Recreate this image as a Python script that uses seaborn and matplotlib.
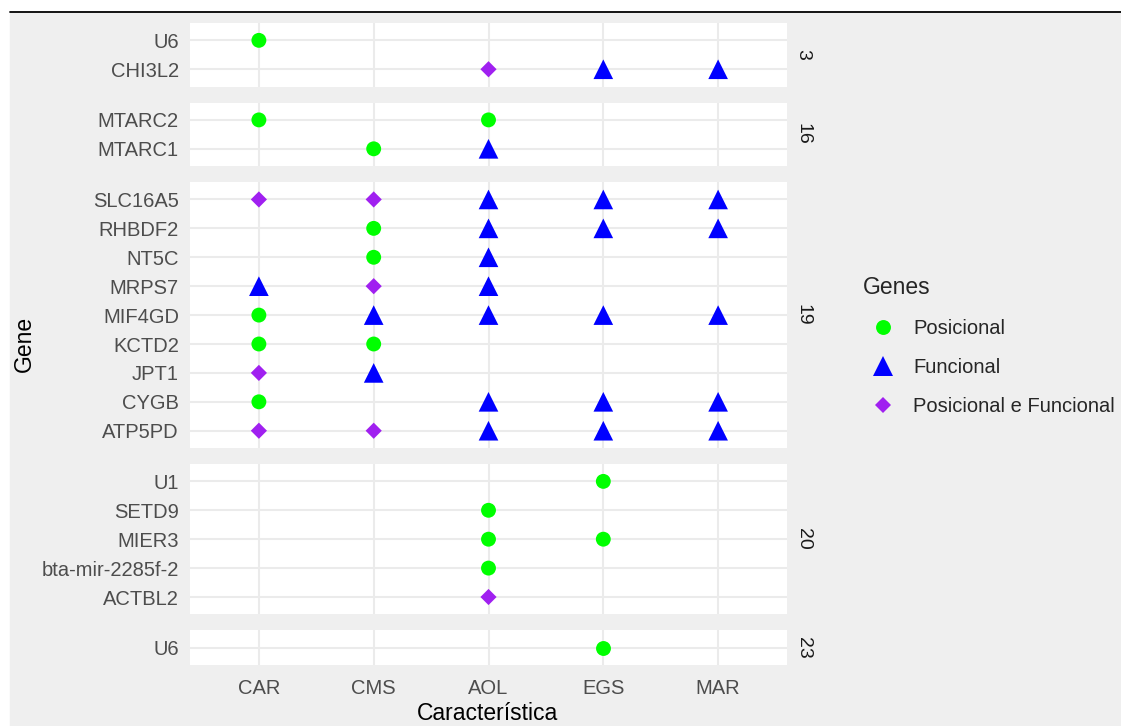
import numpy as np
import pandas as pd
import matplotlib.pyplot as plt
import seaborn as sns
from matplotlib.lines import Line2D

# Data: gene x trait hits, faceted by chromosome
chromosomes = [3, 16, 19, 20, 23]
traits = ["CAR", "CMS", "AOL", "EGS", "MAR"]
gene_types = ["Posicional", "Funcional", "Posicional e Funcional"]

P, F, PF = gene_types

chrom = [3, 3, 3, 3,
         16, 16, 16, 16,
         19, 19, 19, 19, 19, 19, 19, 19, 19, 19, 19, 19, 19, 19,
         19, 19, 19, 19, 19, 19, 19, 19, 19, 19, 19, 19, 19, 19,
         19, 19, 19, 19,
         20, 20, 20, 20, 20, 20,
         23]
gene = ["U6", "CHI3L2", "CHI3L2", "CHI3L2",
        "MTARC2", "MTARC2", "MTARC1", "MTARC1",
        "SLC16A5", "SLC16A5", "SLC16A5", "SLC16A5", "SLC16A5",
        "RHBDF2", "RHBDF2", "RHBDF2", "RHBDF2",
        "NT5C", "NT5C",
        "MRPS7", "MRPS7", "MRPS7",
        "MIF4GD", "MIF4GD", "MIF4GD", "MIF4GD", "MIF4GD",
        "KCTD2", "KCTD2",
        "JPT1", "JPT1",
        "CYGB", "CYGB", "CYGB", "CYGB",
        "ATP5PD", "ATP5PD", "ATP5PD", "ATP5PD", "ATP5PD",
        "U1", "SETD9", "MIER3", "MIER3", "bta-mir-2285f-2", "ACTBL2",
        "U6"]
trait = ["CAR", "AOL", "EGS", "MAR",
         "CAR", "AOL", "CMS", "AOL",
         "CAR", "CMS", "AOL", "EGS", "MAR",
         "CMS", "AOL", "EGS", "MAR",
         "CMS", "AOL",
         "CAR", "CMS", "AOL",
         "CAR", "CMS", "AOL", "EGS", "MAR",
         "CAR", "CMS",
         "CAR", "CMS",
         "CAR", "AOL", "EGS", "MAR",
         "CAR", "CMS", "AOL", "EGS", "MAR",
         "EGS", "AOL", "AOL", "EGS", "AOL", "AOL",
         "EGS"]
kind = [P, PF, F, F,
        P, P, P, F,
        PF, PF, F, F, F,
        P, F, F, F,
        P, F,
        F, PF, F,
        P, F, F, F, F,
        P, P,
        PF, F,
        P, F, F, F,
        PF, PF, F, F, F,
        P, P, P, P, P, PF,
        P]

df = pd.DataFrame({"Cromossomo": chrom, "Gene": gene,
                   "Caracteristica": trait, "Genes": kind})

palette = {P: "#00FF00", F: "#0000FF", PF: "#A020F0"}
markers = {P: "o", F: "^", PF: "D"}
sizes = {P: 115, F: 200, PF: 68}

sns.set_theme(style="whitegrid")
plt.rcParams["font.family"] = ["Liberation Sans", "DejaVu Sans"]
plt.rcParams["axes.edgecolor"] = "white"

bg = "#EFEFEF"
fig = plt.figure(figsize=(11.21, 7.26), dpi=100, facecolor="white")
# screenshot-like backdrop with the black rule on top
fig.patches.append(plt.Rectangle((10 / 1121, 0), 1, 1 - 13 / 726,
                                 transform=fig.transFigure, color=bg, zorder=-10))
fig.add_artist(Line2D([10 / 1121, 1], [1 - 12 / 726] * 2, color="black", lw=1.3))

n_genes = [df.loc[df.Cromossomo == c, "Gene"].nunique() for c in chromosomes]
ratios = [n - 1 + 1.2 for n in n_genes]
gs = fig.add_gridspec(len(chromosomes), 1, height_ratios=ratios,
                      left=190 / 1121, right=787 / 1121,
                      top=1 - 23 / 726, bottom=1 - 665 / 726, hspace=0.138)

for i, c in enumerate(chromosomes):
    ax = fig.add_subplot(gs[i])
    sub = df[df.Cromossomo == c].copy()
    order = sorted(sub["Gene"].unique(), key=str.lower)
    sub["Gene"] = pd.Categorical(sub["Gene"], categories=order)
    sub["Caracteristica"] = pd.Categorical(sub["Caracteristica"], categories=traits)
    sns.scatterplot(data=sub, x="Caracteristica", y="Gene", hue="Genes",
                    style="Genes", size="Genes", palette=palette,
                    markers=markers, sizes=sizes, linewidth=0,
                    legend=False, ax=ax, zorder=3)
    ax.set_xlim(-0.6, len(traits) - 0.4)
    ax.set_ylim(-0.6, len(order) - 0.4)
    ax.set_facecolor("white")
    ax.grid(True, color="#EBEBEB", linewidth=1.5)
    for s in ax.spines.values():
        s.set_visible(False)
    ax.tick_params(length=0, labelsize=14.5, labelcolor="#4D4D4D")
    ax.tick_params(axis="y", pad=8)
    ax.tick_params(axis="x", pad=10)
    ax.set_xlabel("")
    ax.set_ylabel("")
    if i < len(chromosomes) - 1:
        ax.tick_params(axis="x", labelbottom=False)
    ax.text(1 + 16 / 597, 0.5, str(c), transform=ax.transAxes, rotation=-90,
            ha="center", va="center", fontsize=14, color="#1A1A1A")

fig.text(488 / 1121, 1 - 714 / 726, "Característica", ha="center", va="center",
         fontsize=16.5, color="black")
fig.text(24 / 1121, 1 - 344 / 726, "Gene", ha="center", va="center",
         rotation=90, fontsize=16.5, color="black")

handles = [Line2D([], [], linestyle="none", marker=markers[k], color=palette[k],
                  markersize=np.sqrt(sizes[k]), markeredgewidth=0)
           for k in gene_types]
fig.legend(handles, gene_types, title="Genes", loc="upper left",
           bbox_to_anchor=(855 / 1121, 1 - 268 / 726), frameon=False,
           fontsize=14.5, title_fontsize=16.5, alignment="left",
           handletextpad=0.5, labelspacing=1.0, borderaxespad=0)

fig.savefig("out.png", dpi=100, facecolor=fig.get_facecolor())
